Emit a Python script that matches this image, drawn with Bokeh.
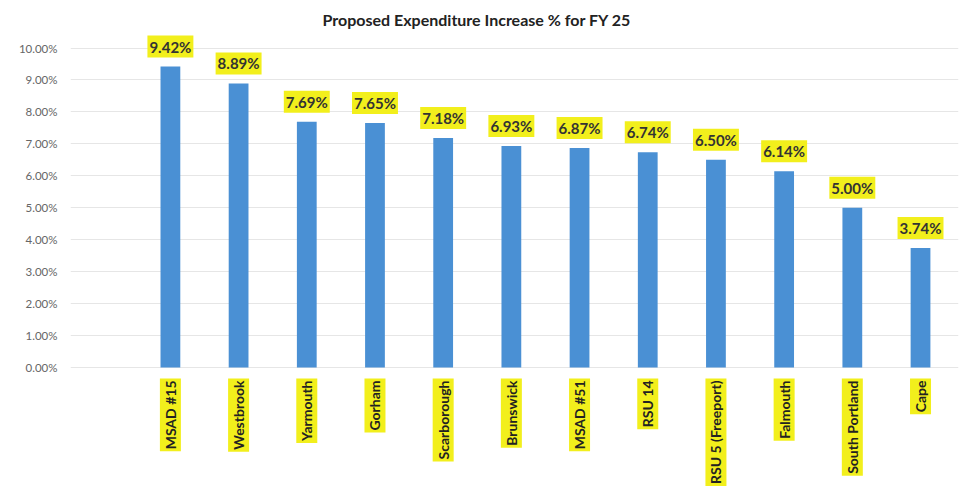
import math
from bokeh.plotting import figure
from bokeh.models import ColumnDataSource, FixedTicker, PrintfTickFormatter, Title
from bokeh.core.properties import value
from bokeh.embed import file_html
from bokeh.resources import INLINE

districts = ["MSAD #15", "Westbrook", "Yarmouth", "Gorham", "Scarborough", "Brunswick",
             "MSAD #51", "RSU 14", "RSU 5 (Freeport)", "Falmouth", "South Portland", "Cape"]
increase_pct = [9.42, 8.89, 7.69, 7.65, 7.18, 6.93, 6.87, 6.74, 6.50, 6.14, 5.00, 3.74]
y_ticks = [0, 1, 2, 3, 4, 5, 6, 7, 8, 9, 10]

pos = list(range(len(districts)))
src = ColumnDataSource(dict(
    x=pos,
    top=increase_pct,
    zero=[0] * len(pos),
    name=districts,
    lab=["%.2f%%" % v for v in increase_pct],
))

p = figure(width=968, height=490, output_backend="svg", toolbar_location=None,
           x_range=(-1.465, 11.557), y_range=(-3.85, 10.548),
           min_border_left=70, min_border_right=10, min_border_top=30, min_border_bottom=0,
           title=None)
p.outline_line_color = None
p.background_fill_color = "white"
p.border_fill_color = "white"

t = Title(text="Proposed Expenditure Increase % for FY 25", align="left", offset=252,
          text_font="Lato", text_font_size="16px", text_font_style="bold",
          text_color="#222222", standoff=4)
p.add_layout(t, "above")

p.vbar(x="x", top="top", bottom=0, width=0.29, source=src,
       fill_color="#4a90d4", line_color=None)

p.text(x="x", y="top", text="lab", source=src, text_align="center", text_baseline="bottom",
       y_offset=-9, text_font=value("Lato"), text_font_size="15px", text_font_style="bold",
       text_color="#333333", background_fill_color="#f2ef1c", padding=2)

p.text(x="x", y="zero", text="name", source=src, angle=math.pi / 2,
       text_align="right", text_baseline="middle", y_offset=11,
       text_font=value("Lato"), text_font_size="14px", text_font_style="bold",
       text_color="#222222", background_fill_color="#f2ef1c", padding=2)

p.xaxis.visible = False
p.xgrid.grid_line_color = None
p.yaxis.ticker = FixedTicker(ticks=y_ticks)
p.yaxis.formatter = PrintfTickFormatter(format="%.2f%%")
p.yaxis.axis_line_color = None
p.yaxis.major_tick_line_color = None
p.yaxis.minor_tick_line_color = None
p.yaxis.major_label_standoff = 7
p.yaxis.major_label_text_font = "Lato"
p.yaxis.major_label_text_font_size = "11.5px"
p.yaxis.major_label_text_color = "#666666"
p.ygrid.ticker = FixedTicker(ticks=y_ticks)
p.ygrid.grid_line_color = "#e6e6e6"
p.ygrid.grid_line_width = 1

open("out.html", "w").write(file_html(p, INLINE))
